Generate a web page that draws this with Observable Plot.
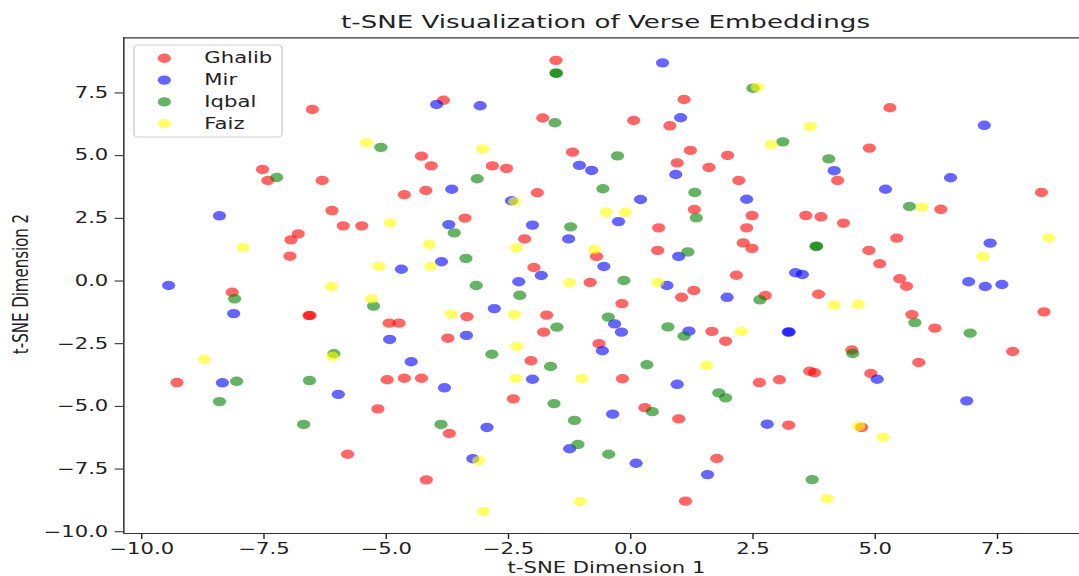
<!DOCTYPE html>
<html><head><meta charset="utf-8">
<script src="https://cdn.jsdelivr.net/npm/d3@7"></script>
<script src="https://cdn.jsdelivr.net/npm/@observablehq/plot@0.6"></script>
<style>
html,body{margin:0;padding:0;background:#fff;overflow:hidden;}
#chart{width:1079px;height:576px;overflow:hidden;}
#chart svg{transform:scaleX(1.41046);transform-origin:0 0;display:block;}
</style></head><body><div id="chart"></div>
<script>
const seriesNames = ["Ghalib", "Mir", "Iqbal", "Faiz"];
const seriesColors = ["red", "blue", "green", "yellow"];

const ghalibX = [-6.51,-7.53,-7.42,-6.31,-6.11,-5.88,-5.50,-6.80,-6.95,-6.97,-8.15,-1.53,-3.83,-1.80,-1.19,-4.28,-4.08,-2.83,-2.54,-4.63,-4.19,-1.91,-3.39,-2.17,-0.70,-1.98,-0.83,1.09,0.06,0.80,1.22,1.98,0.95,1.60,4.23,2.21,1.30,2.48,3.58,3.89,4.35,0.57,2.37,2.30,2.48,0.55,2.16,5.30,4.88,8.40,6.34,5.44,4.87,5.09,5.50,5.64,-6.58,-6.56,-9.28,-5.79,-3.35,-1.72,-4.94,-4.74,-1.78,-3.74,-0.65,-2.04,-4.98,-4.63,-4.28,-2.40,-5.17,-3.71,-4.18,1.04,1.29,2.75,3.84,-0.18,1.66,1.94,-0.17,2.63,3.04,3.66,3.76,0.29,0.98,3.23,1.76,1.12,8.45,5.75,6.22,7.81,4.52,5.89,4.91,4.72];
const ghalibY = [6.84,4.45,4.01,4.01,2.81,2.20,2.20,1.88,1.64,0.99,-0.45,8.80,7.21,6.50,5.14,4.98,4.59,4.59,4.49,3.44,3.61,3.52,2.51,1.68,0.98,0.54,-0.06,7.24,6.40,6.19,5.21,5.01,4.71,4.53,4.01,4.01,2.85,2.61,2.61,2.56,2.31,2.12,2.12,1.52,1.30,1.22,0.23,6.91,5.30,3.53,2.86,1.71,1.22,0.69,0.09,-0.21,-1.38,-1.37,-4.05,-6.91,-1.42,-1.36,-1.68,-1.68,-2.04,-2.28,-2.50,-3.18,-3.94,-3.88,-3.88,-4.70,-5.10,-6.08,-7.93,-0.65,-0.38,-0.58,-0.53,-0.90,-2.01,-2.40,-3.90,-4.05,-3.94,-3.60,-3.66,-5.05,-5.50,-5.75,-7.08,-8.78,-1.23,-1.34,-1.88,-2.81,-2.75,-3.25,-3.69,-5.84];

const mirX = [-8.41,-9.45,-3.97,-3.08,-1.05,-0.80,-3.66,-2.44,-3.72,-2.01,-1.27,-0.55,-4.69,-3.87,-1.83,-2.29,0.65,1.02,4.16,0.92,0.20,2.37,-0.25,0.98,3.37,3.51,0.74,7.23,6.54,5.21,7.35,6.91,7.25,7.59,-8.12,-8.35,-5.98,-2.79,-4.93,-3.36,-0.58,-4.49,-3.81,-2.01,-2.94,-1.25,-3.23,1.97,-0.33,-0.19,1.19,3.22,3.24,0.95,-0.37,2.79,0.11,1.57,5.04,6.87];
const mirY = [2.60,-0.18,7.04,6.99,4.61,4.41,3.66,3.20,2.25,2.23,1.68,0.58,0.47,0.77,0.22,-0.03,8.70,6.51,4.40,4.25,3.25,3.26,2.37,0.98,0.33,0.26,-0.18,6.21,4.12,3.66,1.51,-0.03,-0.22,-0.14,-1.30,-4.06,-4.52,-1.10,-2.33,-2.17,-2.78,-3.22,-4.26,-3.92,-5.84,-6.69,-7.09,-0.65,-1.71,-2.04,-2.00,-2.04,-2.03,-4.12,-5.31,-5.71,-7.27,-7.72,-3.92,-4.78];

const iqbalX = [-7.24,-1.53,-1.52,-1.55,-5.11,-3.14,-0.57,-3.61,-1.23,-3.37,-3.16,2.50,3.11,-0.27,4.05,1.31,1.34,3.79,3.80,1.17,-0.14,5.70,-8.10,-6.07,-8.06,-6.57,-8.41,-6.69,-5.26,-2.27,-1.51,-2.84,-1.64,-1.57,-1.15,-3.88,-1.08,2.64,-0.46,0.76,1.09,0.33,1.80,1.94,0.44,-0.45,3.71,5.81,6.94,4.54];
const iqbalY = [4.13,8.30,8.28,6.31,5.33,4.08,3.68,1.92,2.16,0.90,-0.18,7.69,5.55,4.99,4.87,3.53,2.52,1.38,1.39,1.16,0.02,2.97,-0.71,-2.90,-4.00,-3.97,-4.81,-5.72,-1.00,-0.57,-1.84,-2.92,-3.41,-4.89,-5.56,-5.72,-6.52,-0.75,-1.44,-1.83,-2.20,-3.34,-4.46,-4.66,-5.21,-6.91,-7.92,-1.66,-2.08,-2.89];

const faizX = [-7.93,-6.12,-5.40,-3.03,-2.37,-0.50,-0.11,-4.92,-4.12,-2.34,-0.74,-5.15,-4.09,-1.25,2.59,3.67,2.87,0.55,5.96,8.55,7.20,-6.10,-8.72,-5.30,-3.67,-2.38,-2.33,-2.35,-1.00,-3.11,-1.04,-3.01,4.16,2.26,1.55,4.02,4.65,4.66,5.16];
const faizY = [1.34,-0.22,5.52,5.27,3.17,2.74,2.74,2.32,1.46,1.32,1.26,0.59,0.59,-0.07,7.73,6.16,5.44,-0.06,2.94,1.72,0.98,-3.01,-3.12,-0.71,-1.32,-1.34,-2.60,-3.88,-3.89,-7.17,-8.80,-9.19,-0.96,-2.01,-3.36,-8.68,-0.92,-5.79,-6.23];

const xTicks = [-10, -7.5, -5, -2.5, 0, 2.5, 5, 7.5];
const yTicks = [-10, -7.5, -5, -2.5, 0, 2.5, 5, 7.5];
const titleText = "t-SNE Visualization of Verse Embeddings";
const xLabelText = "t-SNE Dimension 1";
const yLabelText = "t-SNE Dimension 2";

const seriesX = [ghalibX, mirX, iqbalX, faizX];
const seriesY = [ghalibY, mirY, iqbalY, faizY];
const points = seriesNames.flatMap((name, i) =>
  seriesX[i].map((x, j) => ({x, y: seriesY[i][j], series: name})));

const W = 765, H = 576;
const xDomain = [-10.366, 9.181];
const yDomain = [-10.07, 9.70];
const font = "DejaVu Sans";

const plot = Plot.plot({
  width: W, height: H,
  marginLeft: 87.3, marginRight: 0, marginTop: 37.3, marginBottom: 43,
  style: {fontFamily: font, fontSize: "15px", color: "#222", background: "white", overflow: "visible"},
  x: {domain: xDomain, ticks: xTicks, tickFormat: d3.format(".1f"), tickSize: 6, tickPadding: 4, label: null},
  y: {domain: yDomain, ticks: yTicks, tickFormat: d3.format(".1f"), tickSize: 6, tickPadding: 5, label: null},
  color: {domain: seriesNames, range: seriesColors},
  marks: [
    Plot.dot(points, {x: "x", y: "y", fill: "series", fillOpacity: 0.6, r: 4.7}),
    Plot.ruleX([xDomain[0]], {stroke: "#333", strokeWidth: 1.1}),
    Plot.ruleY([yDomain[0], yDomain[1]], {stroke: "#333", strokeWidth: 1.2})
  ]
});

const svg = d3.select(plot);
svg.append("text").attr("x", 429.3).attr("y", 28.3).attr("text-anchor", "middle")
  .attr("font-family", font).attr("font-size", 18.5).attr("fill", "#222").text(titleText);
svg.append("text").attr("x", 430).attr("y", 573).attr("text-anchor", "middle")
  .attr("font-family", font).attr("font-size", 15).attr("fill", "#222").text(xLabelText);
svg.append("text").attr("transform", "translate(19.5,284) rotate(-90)").attr("text-anchor", "middle")
  .attr("font-family", font).attr("font-size", 15).attr("fill", "#222").text(yLabelText);

const lg = svg.append("g").attr("font-family", font).attr("font-size", 15);
lg.append("rect").attr("x", 95).attr("y", 45).attr("width", 105).attr("height", 92).attr("rx", 3)
  .attr("fill", "white").attr("fill-opacity", 0.8).attr("stroke", "#d0d0d0");
seriesNames.forEach((n, i) => {
  const cy = 58.3 + i * 21.8;
  lg.append("circle").attr("cx", 116.5).attr("cy", cy).attr("r", 4.7)
    .attr("fill", seriesColors[i]).attr("fill-opacity", 0.6);
  lg.append("text").attr("x", 144.9).attr("y", cy + 5).attr("text-anchor", "start")
    .attr("fill", "#222").text(n);
});

document.getElementById("chart").appendChild(plot);
</script>
</body></html>
